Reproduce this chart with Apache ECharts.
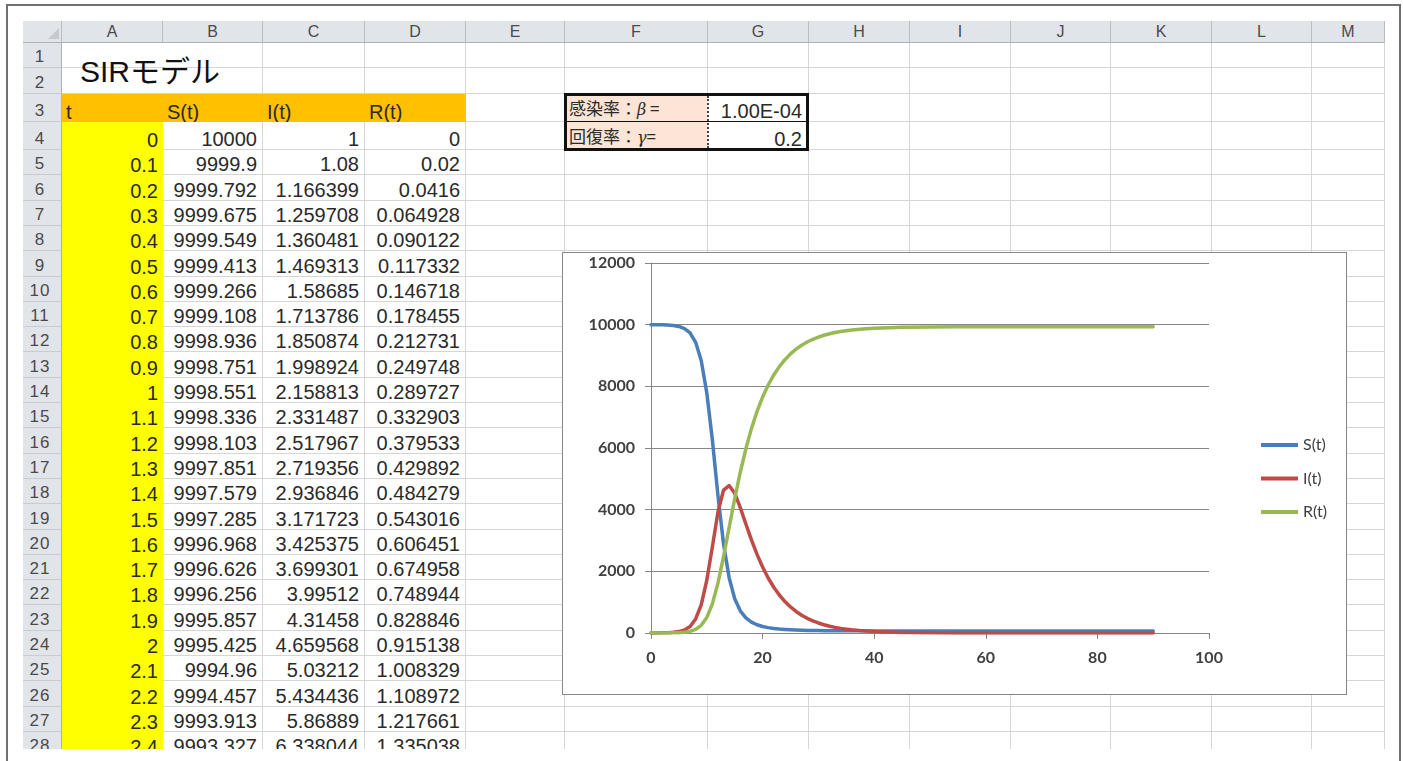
<!DOCTYPE html>
<html><head><meta charset="utf-8">
<script src="https://cdn.jsdelivr.net/npm/echarts@6/dist/echarts.min.js"></script>
<style>
html,body{margin:0;padding:0;width:1403px;height:761px;overflow:hidden;background:#fff;}
#page{position:absolute;left:0;top:0;width:1403px;height:761px;}
#sheet{position:absolute;left:0;top:0;width:1385px;height:749px;overflow:hidden;}
.c{position:absolute;box-sizing:border-box;display:flex;align-items:flex-end;font-family:"Liberation Sans",Arial,sans-serif;font-size:20px;line-height:20px;color:#2a2a2a;white-space:nowrap;padding:0 5px 0 4px;}
.hd{position:absolute;box-sizing:border-box;display:flex;align-items:center;justify-content:center;font-family:"Liberation Sans",Arial,sans-serif;font-size:16px;color:#4a4a4a;background:#e1e5ea;border-right:1px solid #b7bdc5;border-bottom:1px solid #aab1ba;}
.rh{position:absolute;box-sizing:border-box;display:flex;align-items:flex-end;justify-content:center;font-family:"Liberation Sans",Arial,sans-serif;font-size:17px;line-height:20px;letter-spacing:1px;color:#4a4a4a;background:#e1e5ea;border-right:1px solid #aab1ba;border-bottom:1px solid #c6ccd3;padding-right:4px;}
.ln{position:absolute;background:#707070;}
#chartBox{position:absolute;left:562px;top:252px;width:785px;height:443px;box-sizing:border-box;border:1px solid #878787;background:#fff;}
#chart{position:absolute;left:0;top:0;width:783px;height:441px;}
</style></head><body>
<div id="page"><div id="sheet"></div></div>
<div id="chartBox"><div id="chart"></div></div>
<script>
// ===== DATA =====
const colLetters = ['A','B','C','D','E','F','G','H','I','J','K','L','M'];
const sheetTitle = 'SIRモデル';
const headerLabels = ['t','S(t)','I(t)','R(t)'];
const tCol = ['0','0.1','0.2','0.3','0.4','0.5','0.6','0.7','0.8','0.9','1','1.1','1.2','1.3','1.4','1.5','1.6','1.7','1.8','1.9','2','2.1','2.2','2.3','2.4'];
const sCol = ['10000','9999.9','9999.792','9999.675','9999.549','9999.413','9999.266','9999.108','9998.936','9998.751','9998.551','9998.336','9998.103','9997.851','9997.579','9997.285','9996.968','9996.626','9996.256','9995.857','9995.425','9994.96','9994.457','9993.913','9993.327'];
const iCol = ['1','1.08','1.166399','1.259708','1.360481','1.469313','1.58685','1.713786','1.850874','1.998924','2.158813','2.331487','2.517967','2.719356','2.936846','3.171723','3.425375','3.699301','3.99512','4.31458','4.659568','5.03212','5.434436','5.86889','6.338044'];
const rCol = ['0','0.02','0.0416','0.064928','0.090122','0.117332','0.146718','0.178455','0.212731','0.249748','0.289727','0.332903','0.379533','0.429892','0.484279','0.543016','0.606451','0.674958','0.748944','0.828846','0.915138','1.008329','1.108972','1.217661','1.335038'];
const paramLabels = ['感染率：', '回復率：'];
const paramSymbols = ['β', 'γ'];
const paramEq = [' =', '='];
const paramValues = ['1.00E-04', '0.2'];

// chart series
const chartT = [0,1,2,3,4,5,6,7,8,9,10,11,12,13,14,15,16,17,18,19,20,21,22,23,24,25,26,27,28,29,30,31,32,33,34,35,36,38,40,45,50,55,60,70,80,90];
const chartS = [10000,9998.6,9995.4,9988.6,9974,9942,9875,9734,9429,8837,7785,6259,4457,2888,1797,1112,720,492,355,267,210,174,148,129,115,104,96,89,85,81,78,76,74,73,72,71,70,69,68,68,68,68,68,68,68,68];
const chartI = [1,2.2,4.7,10.1,21.7,46.8,100,212,455,915,1713,2795,3927,4636,4782,4535,4067,3535,3018,2550,2139,1784,1484,1232,1021,845,699,578,477,394,325,268,221,182,150,124,102,69,47,18,7,2.6,1,0.2,0,0];
const chartR = [0,0.3,0.9,2.3,5.4,11.9,25.6,55,117,249,503,947,1617,2477,3422,4354,5214,5974,6628,7184,7652,8043,8369,8640,8865,9052,9206,9334,9439,9526,9598,9657,9706,9746,9779,9806,9829,9863,9886,9915,9926,9930,9932,9933,9933,9933];
const seriesNames = ['S(t)','I(t)','R(t)'];

// ===== LAYOUT =====
const colX = [23, 62, 163, 263, 365, 466, 565, 708, 809, 910, 1011, 1111, 1212, 1312, 1385];
const rowTop = [null, 43, 68, 94, 122, 150];
for (let r = 6; r <= 30; r++) rowTop.push(Math.round(150 + (r - 5) * 25.3));
const sheet = document.getElementById('sheet');
function mk(cls, x, y, w, h, html, style) {
  const d = document.createElement('div');
  d.className = cls;
  d.style.left = x + 'px'; d.style.top = y + 'px';
  d.style.width = w + 'px'; d.style.height = h + 'px';
  if (html !== undefined && html !== null) d.innerHTML = html;
  if (style) Object.assign(d.style, style);
  sheet.appendChild(d);
  return d;
}
const ORANGE = '#ffc000', YELLOW = '#ffff00', PEACH = '#fce4d6', GRID = '#d6d6d6';
// cells
for (let r = 1; r <= 29; r++) {
  for (let c = 1; c <= 13; c++) {
    const x = colX[c], w = colX[c + 1] - colX[c];
    const y = rowTop[r], h = rowTop[r + 1] - rowTop[r];
    let bg = '#fff', br = '1px solid ' + GRID, bb = '1px solid ' + GRID;
    let txt = null, just = 'flex-end';
    if (r === 3 && c <= 4) { bg = ORANGE; br = 'none'; bb = 'none'; txt = headerLabels[c - 1]; just = 'flex-start'; }
    if (r >= 4 && c === 1) { bg = YELLOW; br = 'none'; bb = 'none'; txt = tCol[r - 4]; }
    if (r >= 4 && r - 4 < sCol.length) {
      if (c === 2) txt = sCol[r - 4];
      if (c === 3) txt = iCol[r - 4];
      if (c === 4) txt = rCol[r - 4];
    }
    if ((r === 1 || r === 2) && c === 1) br = 'none';
    if ((r === 3 || r === 4) && c === 6) {
      bg = PEACH; br = 'none'; bb = 'none';
      const k = r - 3;
      txt = '<span style="font-family:\'Noto Sans CJK JP\';font-size:17px;">' + paramLabels[k] +
        '<i style="font-family:\'DejaVu Serif\';font-size:16px;">' + paramSymbols[k] + '</i>' + paramEq[k].replace(' ', '&nbsp;') + '</span>';
      just = 'flex-start';
    }
    if ((r === 3 || r === 4) && c === 7) { txt = paramValues[r - 3]; }
    const d = mk('c', x, y, w, h, txt, {background: bg, borderRight: br, borderBottom: bb, justifyContent: just});
    if ((r === 3 || r === 4) && c === 6) d.style.paddingBottom = '2px';
    if ((r === 3 || r === 4) && c === 7) d.style.paddingRight = '6px';
  }
}
// title
mk('c', 80, 56.6, 200, 30, sheetTitle, {fontSize: '30px', lineHeight: '30px', padding: '0', fontFamily: '"Liberation Sans","Noto Sans CJK JP",sans-serif', color: '#111', alignItems: 'flex-start'});
// parameter box
mk('c', 564, 93, 245, 58, null, {border: '3px solid #111', padding: '0'});
mk('c', 564, 121, 245, 1, null, {background: '#111', padding: '0'});
mk('c', 707, 96, 2, 52, null, {borderLeft: '2px dotted #444', padding: '0'});
// column headers
mk('hd', colX[0], 21, colX[1] - colX[0], 22, '');
mk('c', 48, 28, 0, 0, null, {padding: '0', borderLeft: '11px solid transparent', borderBottom: '11px solid #c5cad0'});
for (let c = 1; c <= 13; c++) mk('hd', colX[c], 21, colX[c + 1] - colX[c], 22, colLetters[c - 1]);
// row headers
for (let r = 1; r <= 29; r++) mk('rh', colX[0], rowTop[r], colX[1] - colX[0], rowTop[r + 1] - rowTop[r], String(r));

// outer frame
const page = document.getElementById('page');
function line(x, y, w, h) { const d = document.createElement('div'); d.className = 'ln'; Object.assign(d.style, {left: x + 'px', top: y + 'px', width: w + 'px', height: h + 'px'}); page.appendChild(d); }
line(7, 4, 1394, 2); line(6, 4, 2, 757); line(1399, 4, 2, 757);

// ===== CHART =====
const chart = echarts.init(document.getElementById('chart'));
const colors = ['#4a7ebb', '#be4b48', '#98b954'];
const vals = [chartS, chartI, chartR];
const labelFont = {fontFamily: 'Lato', fontWeight: 'bold', fontSize: 16, color: '#404040'};
const plain = v => String(v);
chart.setOption({
  animation: false,
  color: colors,
  grid: {left: 88, top: 10, width: 558, height: 370},
  xAxis: {
    type: 'value', min: 0, max: 100, interval: 20,
    axisLine: {show: true, lineStyle: {color: '#868686', width: 1}},
    axisTick: {show: true, length: 6, lineStyle: {color: '#868686'}},
    splitLine: {show: false},
    axisLabel: Object.assign({margin: 17, formatter: plain}, labelFont)
  },
  yAxis: {
    type: 'value', min: 0, max: 12000, interval: 2000,
    axisLine: {show: true, lineStyle: {color: '#868686', width: 1}},
    axisTick: {show: true, length: 6, lineStyle: {color: '#868686'}},
    splitLine: {show: true, lineStyle: {color: '#868686', width: 1}},
    axisLabel: Object.assign({margin: 16, formatter: plain}, labelFont)
  },
  legend: {
    orient: 'vertical', left: 693, top: 179, icon: 'rect',
    itemWidth: 37, itemHeight: 4, itemGap: 17.5,
    textStyle: {fontFamily: 'Lato', fontSize: 16, lineHeight: 16, color: '#404040'},
    data: seriesNames
  },
  series: seriesNames.map((n, k) => ({
    name: n, type: 'line', showSymbol: false, symbol: 'none',
    smooth: false,
    lineStyle: {width: 3.5, color: colors[k], join: 'round', cap: 'round'},
    itemStyle: {color: colors[k]},
    data: chartT.map((t, i) => [t, vals[k][i]])
  }))
});
</script>
</body></html>
